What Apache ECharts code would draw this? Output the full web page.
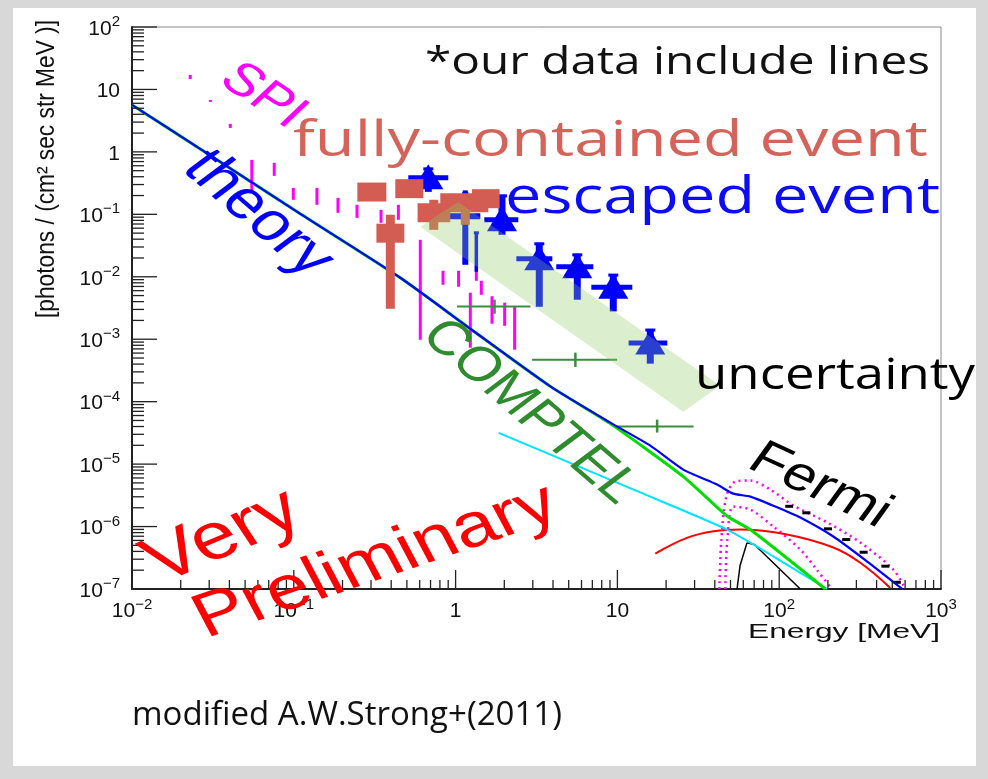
<!DOCTYPE html>
<html>
<head>
<meta charset="utf-8">
<script src="https://cdn.jsdelivr.net/npm/echarts@6/dist/echarts.min.js"></script>
<style>
  html, body { margin: 0; padding: 0; background: #d8d8d8; }
  #chart { width: 988px; height: 779px; }
</style>
</head>
<body>
<div id="chart"></div>
<script>
// ---------------- data (E in MeV, flux in photons / (cm2 s sr MeV)) ----------------

// total model (blue)
const totalE = [0.01, 0.0264, 0.1097, 0.4551, 1.232, 3.848, 9.04, 15.97, 25.55, 41.3, 52.0, 66.3, 94.6, 135, 216, 350, 577];
const totalF = [5.65, 1.117, 0.1019, 0.00964, 1.472e-3, 1.757e-4, 4.61e-5, 1.977e-5, 8.17e-6, 4.70e-6, 3.37e-6, 3.02e-6, 2.09e-6, 1.393e-6, 6.92e-7, 2.75e-7, 1.0e-7];

// inverse-Compton component (green)
const icE = [0.01, 0.0264, 0.1097, 0.4551, 1.232, 3.848, 9.04, 25.55, 47.8, 66.3, 192.7];
const icF = [5.65, 1.117, 0.1019, 0.00964, 1.472e-3, 1.757e-4, 4.45e-5, 6.31e-6, 1.46e-6, 8.95e-7, 1.0e-7];

// bremsstrahlung component (cyan)
const bremE = [1.844, 7.84, 12.59, 47.6, 94.6, 197.4];
const bremF = [3.16e-5, 6.55e-6, 3.9e-6, 8.95e-7, 3.19e-7, 1.0e-7];

// pi0-decay component (red)
const pionE = [17.15, 26.9, 39.3, 57.5, 111.7, 216, 317, 486];
const pionF = [3.7e-7, 6.59e-7, 8.41e-7, 8.95e-7, 7.45e-7, 4.61e-7, 2.63e-7, 1.04e-7];

// narrow peak (black)
const peakE = [54.9, 57.3, 63.2, 70.2, 135];
const peakF = [1.0e-7, 2.38e-7, 5.48e-7, 5.15e-7, 1.0e-7];

// dotted envelope (magenta), upper and lower
const envHiE = [42.65, 43.9, 47.1, 53.5, 66.3, 88.1, 122.3, 198.3, 317, 507, 602];
const envHiF = [1.0e-7, 6.19e-7, 3.02e-6, 5.25e-6, 5.45e-6, 3.91e-6, 2.17e-6, 1.16e-6, 5.55e-7, 2.05e-7, 1.0e-7];
const envLoE = [46.4, 47.8, 52.0, 66.3, 91.9, 135, 172, 212];
const envLoF = [1.0e-7, 6.19e-7, 2.09e-6, 1.87e-6, 1.0e-6, 4.29e-7, 1.98e-7, 1.0e-7];

// SPI measurements (vertical ranges)
const spiE  = [0.0229, 0.0305, 0.0405, 0.055, 0.0757, 0.0993, 0.139, 0.1875, 0.2458, 0.346, 0.443, 0.605, 0.836, 1.043, 1.233, 1.343, 1.442, 1.679, 2.01, 2.317];
const spiHi = [17.1, 6.79, 2.81, 0.745, 0.667, 0.265, 0.265, 0.1837, 0.142, 0.118, 0.142, 0.0391, 0.01247, 0.01247, 0.00555, 0.015, 0.00863, 0.00488, 0.00384, 0.00335];
const spiLo = [14.7, 6.31, 2.42, 0.221, 0.413, 0.171, 0.142, 0.1057, 0.0879, 0.0731, 0.0817, 9.8e-4, 0.00745, 0.00692, 7.31e-4, 0.00863, 0.00515, 0.00177, 0.00164, 6.79e-4];

// COMPTEL measurements
const compE   = [1.74, 5.5, 17.6];
const compElo = [1.02, 2.97, 9.95];
const compEhi = [2.9, 9.95, 29.6];
const compF   = [3.35e-3, 4.7e-4, 4.0e-5];
const compFlo = [2.56e-3, 3.6e-4, 3.2e-5];
const compFhi = [4.3e-3, 6.1e-4, 5.15e-5];

// fully-contained events
const fcE   = [0.303, 0.517, 0.395, 0.733, 1.148, 1.537];
const fcElo = [0.247, 0.424, 0.324, 0.582, 0.804, 1.263];
const fcEhi = [0.373, 0.632, 0.482, 0.927, 1.593, 1.87];
const fcF   = [0.2275, 0.2577, 0.0499, 0.1057, 0.1528, 0.178];
const fcFlo = [0.20, 0.225, 0.00308, 0.0565, 0.068, 0.16];
const fcFhi = [0.26, 0.29, 0.0982, 0.171, 0.2, 0.2];

// escaped events (with markers)
const escE   = [0.678, 1.935, 3.29, 5.65, 9.43, 15.97];
const escElo = [0.510, 1.504, 2.373, 4.19, 6.90, 11.73];
const escEhi = [0.901, 2.44, 3.96, 7.10, 12.36, 20.34];
const escF   = [0.3837, 0.0817, 0.0194, 0.01445, 0.00679, 8.69e-4];
const escFlo = [0.229, 0.047, 0.00331, 0.00429, 0.00279, 4.06e-4];
const escFhi = [0.5546, 0.205, 0.035, 0.0233, 0.01104, 1.456e-3];

// escaped events whose markers sit behind the fully-contained boxes
const escHidE   = [1.148, 1.343];
const escHidElo = [0.901, 1.343];
const escHidEhi = [1.421, 1.343];
const escHidF   = [0.0929, 0.025];
const escHidFlo = [0.01556, 0.012];
const escHidFhi = [0.229, 0.0506];

// Fermi points
const fermiE   = [115.5, 147, 200, 260, 332, 453, 538];
const fermiElo = [109, 139, 189, 245, 314, 428, 510];
const fermiEhi = [122, 156, 212, 275, 352, 480, 565];
const fermiF   = [2.11e-6, 1.66e-6, 9.19e-7, 6.19e-7, 3.88e-7, 2.32e-7, 1.28e-7];

// uncertainty band corners
const bandE = [0.605, 1.037, 43.2, 25.5];
const bandF = [0.0631, 0.158, 1.80e-4, 6.9e-5];

// axis extents
const xMin = 1e-2, xMax = 1e3;
const yMin = 1e-7, yMax = 1e2;

// ---------------- helpers ----------------
const RED_BOX = '#d35d53';
const BLUE = '#0000ff';
const AXIS_FONT = "'Liberation Sans', Arial, sans-serif";
const SLIDE_FONT = "'Open Sans', 'Noto Sans', sans-serif";
const STRETCH = 1.25;

const mctx = document.createElement('canvas').getContext('2d');
function textWidth(str, size, family) {
  mctx.font = size + 'px ' + family;
  return mctx.measureText(str).width;
}

function powLabel(v) {
  const e = Math.round(Math.log10(v));
  if (e === 0) return '{b|1}';
  if (e === 1) return '{b|10}';
  return '{b|10}{s|' + (e < 0 ? '\u2212' : '') + Math.abs(e) + '}';
}
const labelRich = {
  b: { fontFamily: AXIS_FONT, fontSize: 21, color: '#111', verticalAlign: 'bottom', lineHeight: 25 },
  s: { fontFamily: AXIS_FONT, fontSize: 15, color: '#111', verticalAlign: 'top', lineHeight: 15 }
};

// tick positions: decades and 2..9 subdivisions
function logTicks(lo, hi) {
  const out = [];
  for (let k = lo; k <= hi; k++) {
    for (let m = 1; m <= 9; m++) {
      if (k === hi && m > 1) break;
      out.push([m * Math.pow(10, k), m === 1 ? 1 : 0]);
    }
  }
  return out;
}
const xTickVals = logTicks(-2, 3);
const yTickVals = logTicks(-7, 2);

function rectV(x, y1, y2, w, color) {
  return { type: 'rect', shape: { x: x - w / 2, y: Math.min(y1, y2), width: w, height: Math.max(Math.abs(y2 - y1), 2) }, style: { fill: color } };
}
function rectH(x1, x2, y, h, color) {
  return { type: 'rect', shape: { x: Math.min(x1, x2), y: y - h / 2, width: Math.abs(x2 - x1), height: h }, style: { fill: color } };
}

function lineSeries(name, xs, ys, color, width, type, z, smooth) {
  return {
    type: 'line', name: name, data: xs.map((x, i) => [x, ys[i]]),
    showSymbol: false, symbol: 'none', z: z || 3, silent: true, smooth: smooth || false,
    lineStyle: { color: color, width: width, type: type || 'solid' }
  };
}

// ---------------- text annotations ----------------
const slideTexts = [
  { text: '*our data include lines', size: 39, color: '#111', left: 425, right: 930, midY: 63 },
  { text: 'fully-contained event', size: 50, color: '#d4645a', left: 293, right: 928, midY: 142 },
  { text: 'escaped event', size: 52, color: '#0c0cf5', left: 505, right: 940, midY: 198 },
  { text: 'uncertainty', size: 44, color: '#000', left: 695, right: 975, midY: 376 },
  { text: 'modified A.W.Strong+(2011)', size: 33, color: '#111', left: 132, right: 562, midY: 716 }
];
const tiltedTexts = [
  { text: 'SPI', size: 46, color: '#ff00ff', cx: 263, cy: 96, angle: -40 },
  { text: 'theory', size: 54, color: '#0000ff', cx: 258, cy: 214, angle: -47 },
  { text: 'COMPTEL', size: 48, color: '#2e8b2e', cx: 530, cy: 412, angle: -47 },
  { text: 'Fermi', size: 48, color: '#000', cx: 820, cy: 486, angle: -30 },
  { text: 'Very', size: 66, color: '#ff0000', cx: 223, cy: 537, angle: 28 },
  { text: 'Preliminary', size: 62, color: '#ff0000', cx: 376, cy: 562, angle: 23 }
];

const graphics = [
  { type: 'rect', z: -10, shape: { x: 13, y: 8, width: 963, height: 758 }, style: { fill: '#ffffff' } }
];
slideTexts.forEach(t => {
  const sx = (t.right - t.left) / textWidth(t.text, t.size, SLIDE_FONT);
  graphics.push({
    type: 'group', x: t.left, y: t.midY, scaleX: sx, z: 50,
    children: [{ type: 'text', z: 50, style: { text: t.text, fill: t.color, fontSize: t.size, fontFamily: SLIDE_FONT, align: 'left', verticalAlign: 'middle' } }]
  });
});
tiltedTexts.forEach(t => {
  graphics.push({
    type: 'group', x: t.cx, y: t.cy, scaleX: STRETCH, z: 50,
    children: [{ type: 'text', z: 50, rotation: t.angle * Math.PI / 180, style: { text: t.text, fill: t.color, fontSize: t.size, fontFamily: AXIS_FONT, align: 'center', verticalAlign: 'middle' } }]
  });
});
// axis titles
(function () {
  const yTitle = '[photons / (cm\u00B2 sec str MeV )]';
  const ySize = 17 * 298 / textWidth(yTitle, 17, AXIS_FONT);
  graphics.push({
    type: 'group', x: 47, y: 169, scaleX: 1.15, z: 50,
    children: [{ type: 'text', rotation: Math.PI / 2, style: { text: yTitle, fill: '#111', fontSize: ySize, fontFamily: AXIS_FONT, align: 'center', verticalAlign: 'middle' } }]
  });
  const xTitle = 'Energy [MeV]';
  const sx = 192 / textWidth(xTitle, 21, AXIS_FONT);
  graphics.push({
    type: 'group', x: 940, y: 632, scaleX: sx, z: 50,
    children: [{ type: 'text', style: { text: xTitle, fill: '#111', fontSize: 21, fontFamily: AXIS_FONT, align: 'right', verticalAlign: 'middle' } }]
  });
})();

// ---------------- chart ----------------
const chart = echarts.init(document.getElementById('chart'));

const option = {
  backgroundColor: '#d8d8d8',
  animation: false,
  grid: { left: 132, right: 47, top: 27, bottom: 190, show: true, borderColor: '#8a8a8a', borderWidth: 1, backgroundColor: 'transparent' },
  xAxis: {
    type: 'log', logBase: 10, min: xMin, max: xMax, splitNumber: 10,
    axisLine: { show: true, onZero: false, lineStyle: { color: '#222', width: 2 } },
    axisTick: { show: false }, splitLine: { show: false },
    axisLabel: { formatter: powLabel, rich: labelRich, margin: 8, showMinLabel: true, showMaxLabel: true, hideOverlap: false }
  },
  yAxis: {
    type: 'log', logBase: 10, min: yMin, max: yMax, splitNumber: 10,
    axisLine: { show: true, onZero: false, lineStyle: { color: '#222', width: 2 } },
    axisTick: { show: false }, splitLine: { show: false },
    axisLabel: { formatter: powLabel, rich: labelRich, margin: 12, showMinLabel: true, showMaxLabel: true, hideOverlap: false }
  },
  graphic: graphics,
  series: [
    // axis ticks, drawn inside the frame
    {
      type: 'custom', name: 'xticks', z: 9, silent: true,
      data: xTickVals.map(t => [t[0], yMin, t[1]]),
      renderItem: (params, api) => {
        const p = api.coord([api.value(0), api.value(1)]);
        const len = api.value(2) ? 19 : 9;
        return { type: 'line', shape: { x1: p[0], y1: p[1], x2: p[0], y2: p[1] - len }, style: { stroke: '#222', lineWidth: 1.3 } };
      }
    },
    {
      type: 'custom', name: 'yticks', z: 9, silent: true,
      data: yTickVals.map(t => [xMin, t[0], t[1]]),
      renderItem: (params, api) => {
        const p = api.coord([api.value(0), api.value(1)]);
        const len = api.value(2) ? 25 : 12;
        return { type: 'line', shape: { x1: p[0], y1: p[1], x2: p[0] + len, y2: p[1] }, style: { stroke: '#222', lineWidth: 1.3 } };
      }
    },

    // model curves
    lineSeries('envelope high', envHiE, envHiF, '#ff00ff', 2.5, [2, 4], 3, 0.3),
    lineSeries('envelope low', envLoE, envLoF, '#ff00ff', 2.5, [2, 4], 3, 0.3),
    lineSeries('peak', peakE, peakF, '#000000', 1.5, 'solid', 3),
    lineSeries('pion', pionE, pionF, '#ff0000', 2, 'solid', 3, 0.4),
    lineSeries('bremsstrahlung', bremE, bremF, '#00e5ff', 2, 'solid', 3, 0.2),
    lineSeries('inverse Compton', icE, icF, '#00dd00', 3, 'solid', 3, 0.2),
    lineSeries('total', totalE, totalF, '#0000ff', 2.2, 'solid', 4, 0.2),

    // SPI
    {
      type: 'custom', name: 'SPI', z: 4, silent: true,
      data: spiE.map((e, i) => [e, spiHi[i]]),
      renderItem: (params, api) => {
        const i = params.dataIndex;
        const t = api.coord([spiE[i], spiHi[i]]);
        const b = api.coord([spiE[i], spiLo[i]]);
        return rectV(t[0], t[1], b[1], 3, '#ff00ff');
      }
    },

    // COMPTEL
    {
      type: 'custom', name: 'COMPTEL', z: 4, silent: true,
      data: compE.map((e, i) => [e, compF[i]]),
      renderItem: (params, api) => {
        const i = params.dataIndex;
        const c = api.coord([compE[i], compF[i]]);
        const l = api.coord([compElo[i], compF[i]]);
        const r = api.coord([compEhi[i], compF[i]]);
        const t = api.coord([compE[i], compFhi[i]]);
        const b = api.coord([compE[i], compFlo[i]]);
        return { type: 'group', children: [rectH(l[0], r[0], c[1], 2, '#3c8d3c'), rectV(c[0], t[1], b[1], 2.5, '#3c8d3c')] };
      }
    },

    // Fermi
    {
      type: 'custom', name: 'Fermi', z: 4, silent: true,
      data: fermiE.map((e, i) => [e, fermiF[i]]),
      renderItem: (params, api) => {
        const i = params.dataIndex;
        const l = api.coord([fermiElo[i], fermiF[i]]);
        const r = api.coord([fermiEhi[i], fermiF[i]]);
        return rectH(l[0], r[0], l[1], 3, '#000');
      }
    },

    // escaped events: error bars only
    {
      type: 'custom', name: 'escaped (bars)', z: 5, silent: true,
      data: escHidE.map((e, i) => [e, escHidF[i]]),
      renderItem: (params, api) => {
        const i = params.dataIndex;
        const c = api.coord([escHidE[i], escHidF[i]]);
        const l = api.coord([escHidElo[i], escHidF[i]]);
        const r = api.coord([escHidEhi[i], escHidF[i]]);
        const t = api.coord([escHidE[i], escHidFhi[i]]);
        const b = api.coord([escHidE[i], escHidFlo[i]]);
        const kids = [];
        const thin = escHidElo[i] === escHidEhi[i];
        if (!thin) kids.push(rectH(l[0], r[0], c[1], 6, BLUE));
        kids.push(rectV(c[0], t[1], b[1], thin ? 3.5 : 6, BLUE));
        kids.push(rectH(c[0] - 2.5, c[0] + 2.5, t[1], 3, BLUE));
        return { type: 'group', children: kids };
      }
    },

    // escaped events with triangle markers
    {
      type: 'custom', name: 'escaped event', z: 5, silent: true,
      data: escE.map((e, i) => [e, escF[i]]),
      renderItem: (params, api) => {
        const i = params.dataIndex;
        const c = api.coord([escE[i], escF[i]]);
        const l = api.coord([escElo[i], escF[i]]);
        const r = api.coord([escEhi[i], escF[i]]);
        const t = api.coord([escE[i], escFhi[i]]);
        const b = api.coord([escE[i], escFlo[i]]);
        return {
          type: 'group', children: [
            rectH(l[0], r[0], c[1], 5, BLUE),
            rectV(c[0], t[1], b[1], 7, BLUE),
            rectH(c[0] - 5, c[0] + 5, t[1] + 1, 3, BLUE),
            { type: 'polygon', shape: { points: [[c[0], c[1] - 13.5], [c[0] + 15, c[1] + 11.5], [c[0] - 15, c[1] + 11.5]] }, style: { fill: BLUE } }
          ]
        };
      }
    },

    // fully-contained events
    {
      type: 'custom', name: 'fully-contained event', z: 6, silent: true,
      data: fcE.map((e, i) => [e, fcF[i]]),
      renderItem: (params, api) => {
        const i = params.dataIndex;
        const c = api.coord([fcE[i], fcF[i]]);
        const l = api.coord([fcElo[i], fcF[i]]);
        const r = api.coord([fcEhi[i], fcF[i]]);
        const t = api.coord([fcE[i], fcFhi[i]]);
        const b = api.coord([fcE[i], fcFlo[i]]);
        return { type: 'group', children: [rectH(l[0], r[0], c[1], 19, RED_BOX), rectV(c[0], t[1], b[1], 9, RED_BOX)] };
      }
    },

    // uncertainty band, translucent on top of the points
    {
      type: 'custom', name: 'uncertainty', z: 8, silent: true,
      data: [[bandE[0], bandF[0]]],
      renderItem: (params, api) => {
        const pts = bandE.map((e, i) => api.coord([e, bandF[i]]));
        return { type: 'polygon', shape: { points: pts }, style: { fill: 'rgba(140,203,101,0.31)' } };
      }
    }
  ]
};

chart.setOption(option);
</script>
</body>
</html>
